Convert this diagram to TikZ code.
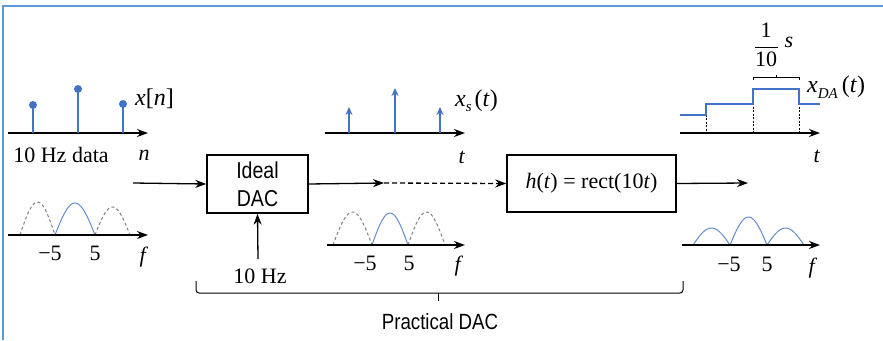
\documentclass[tikz,border=0pt]{standalone}
\usepackage{fontspec}
\setmainfont{Liberation Serif}
\setsansfont{Liberation Sans}
\usetikzlibrary{arrows.meta}
\definecolor{sig}{RGB}{68,114,196}
\definecolor{framec}{RGB}{91,155,213}
\definecolor{lobec}{RGB}{100,140,205}
\begin{document}
\begin{tikzpicture}[x=1pt,y=-1pt,
  axis/.style={line width=1.6pt,-{Stealth[length=11pt,width=8pt]}},
  conn/.style={line width=1.3pt,-{Stealth[length=11pt,width=8pt]}},
  stem/.style={sig,line width=1.8pt},
  istem/.style={sig,line width=1.8pt,-{Stealth[length=8pt,width=7pt]}},
  lobe/.style={lobec,line width=1pt},
  dlobe/.style={gray,line width=1pt,dash pattern=on 3pt off 2.5pt},
  lbl/.style={font=\fontsize{22}{24}\selectfont,inner sep=0pt},
  sflbl/.style={font=\fontsize{22}{25}\sffamily,inner sep=0pt},
  blk/.style={draw,line width=1.4pt,inner sep=0pt},
  stair/.style={sig,line width=1.8pt},
  guide/.style={black,line width=0.5pt,dash pattern=on 2pt off 1.5pt}
]
\useasboundingbox (0,0) rectangle (883,340);
% frame
\draw[framec,line width=2pt] (2.5,340) -- (2.5,5.5) -- (883,5.5);

% ---- panel 1: x[n]
\draw[axis] (8,133) -- (148,133);
\foreach \xx/\yy in {33/105,78/89,123/104}{
  \draw[stem] (\xx,133) -- (\xx,\yy);
  \fill[sig] (\xx,\yy) circle (4pt);
}
\node[lbl,anchor=west,font=\fontsize{24}{26}\selectfont] (xn) at (135,99) {\textit{x}[\textit{n}]};
\node[lbl] (data) at (61,155) {10 Hz data};
\node[lbl] (nlab) at (144,155) {\textit{n}};

% ---- panel 1: spectrum
\draw[dlobe] plot[domain=0:180,samples=30] ({20+35*\x/180},{235-33*sin(\x)});
\draw[lobe]  plot[domain=0:180,samples=30] ({55+40*\x/180},{235-32*sin(\x)});
\draw[dlobe] plot[domain=0:180,samples=30] ({95+35*\x/180},{235-28*sin(\x)});
\draw[axis] (8,235) -- (148,235);
\node[lbl] (m5a) at (50,253) {−5};
\node[lbl] (p5a) at (95,253) {5};
\node[lbl] (fa) at (144,257) {\textit{f}};

% ---- blocks
\node[blk,minimum width=101pt,minimum height=58pt,align=center,font=\fontsize{23}{28}\sffamily] (ideal) at (257.5,184) {\scalebox{0.85}[1]{Ideal}\\\scalebox{0.85}[1]{DAC}};
\node[blk,minimum width=169pt,minimum height=57pt,font=\fontsize{22}{24}\selectfont] (hbox) at (591.5,183.5) {\textit{h}(\textit{t}) = rect(10\textit{t})};

\coordinate (in0) at (133,183);
\coordinate (mid) at (384,183);
\coordinate (out) at (748,183);
\draw[conn] (in0) -- (ideal.west);
\draw[conn] (ideal.east) -- (mid);
\draw[conn,dash pattern=on 5pt off 3pt] (mid) -- (hbox.west);
\draw[conn] (hbox.east) -- (out);
\node[lbl] (clk) at (260,276) {10 Hz};
\draw[conn] (258,259) -- (ideal.south);

% ---- panel 2: x_s(t)
\draw[axis] (325,133) -- (465,133);
\foreach \xx/\yy in {349/107,395/88,440/107}{
  \draw[istem] (\xx,133) -- (\xx,\yy);
}
\node[lbl,anchor=west,font=\fontsize{24}{26}\selectfont] (xs) at (455,101) {\textit{x}\raisebox{-5pt}{\fontsize{15}{15}\selectfont\textit{s}}\hspace{3pt}(\textit{t})};
\node[lbl] (tb) at (462,157) {\textit{t}};

% ---- panel 2: spectrum
\draw[dlobe] plot[domain=0:180,samples=30] ({333+39*\x/180},{245-33*sin(\x)});
\draw[lobe]  plot[domain=0:180,samples=30] ({372+36*\x/180},{245-32*sin(\x)});
\draw[dlobe] plot[domain=0:180,samples=30] ({408+37*\x/180},{245-33*sin(\x)});
\draw[axis] (327,245) -- (465,245);
\node[lbl] (m5b) at (365,263) {−5};
\node[lbl] (p5b) at (409,263) {5};
\node[lbl] (fb) at (459,266) {\textit{f}};

% ---- panel 3: x_DA(t)
\draw[guide] (706,104) -- (706,133);
\draw[guide] (753,89) -- (753,133);
\draw[guide] (799,89) -- (799,133);
\draw[stair] (680,115) -- (706,115) -- (706,104) -- (753,104) -- (753,89) -- (799,89) -- (799,104) -- (820,104);
\draw[axis] (680,133) -- (820,133);
\draw[line width=0.8pt] (753,80) -- (753,77) -- (799,77) -- (799,80);
\draw[line width=0.8pt] (776,77) -- (776,75);
\node[lbl] (one) at (766,30) {1};
\node[lbl] (ten) at (766,59) {10};
\draw[line width=0.8pt] (755,47) -- (778,47);
\node[lbl] (slab) at (789,42) {\textit{s}};
\node[lbl,anchor=west,font=\fontsize{24}{26}\selectfont] (xda) at (807,87) {\textit{x}\raisebox{-6pt}{\fontsize{15}{15}\selectfont\textit{DA}}\hspace{4pt}(\textit{t})};
\node[lbl] (tc) at (817,156) {\textit{t}};

% ---- panel 3: spectrum
\draw[lobe] plot[domain=0:180,samples=30] ({693+37*\x/180},{245-17*sin(\x)});
\draw[lobe] plot[domain=0:180,samples=30] ({730+37*\x/180},{245-28*sin(\x)});
\draw[lobe] plot[domain=0:180,samples=30] ({767+37*\x/180},{245-17*sin(\x)});
\draw[axis] (682,245) -- (820,245);
\node[lbl] (m5c) at (729,264) {−5};
\node[lbl] (p5c) at (767,264) {5};
\node[lbl] (fc) at (813,268) {\textit{f}};

% ---- brace
\draw[line width=1pt,rounded corners=3pt] (196,281) |- (438,293);
\draw[line width=1pt,rounded corners=3pt] (683,281) |- (438,293);
\draw[line width=1pt] (438,293) -- (438,301);
\node[sflbl] (prac) at (440,322) {\scalebox{0.85}[1]{Practical DAC}};
\end{tikzpicture}
\end{document}
